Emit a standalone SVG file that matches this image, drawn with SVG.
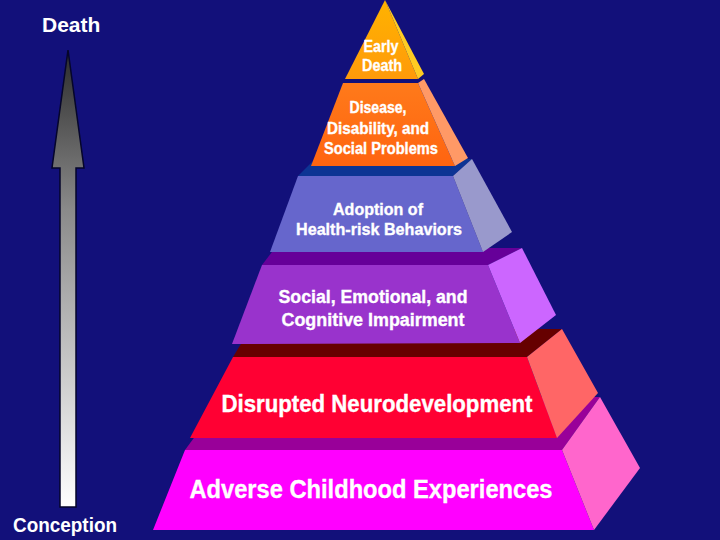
<svg xmlns="http://www.w3.org/2000/svg" width="720" height="540" viewBox="0 0 720 540">
  <defs>
    <linearGradient id="arrowGrad" x1="0" y1="0" x2="0" y2="1">
      <stop offset="0" stop-color="#2a2a2a"/>
      <stop offset="0.35" stop-color="#8a8a8a"/>
      <stop offset="1" stop-color="#ffffff"/>
    </linearGradient>
    <linearGradient id="topGrad" x1="0" y1="0" x2="0" y2="1">
      <stop offset="0" stop-color="#ffb300"/>
      <stop offset="1" stop-color="#ff9a0a"/>
    </linearGradient>
    <linearGradient id="dGrad" x1="0" y1="0" x2="0" y2="1">
      <stop offset="0" stop-color="#ff7a1a"/>
      <stop offset="1" stop-color="#ff6410"/>
    </linearGradient>
  </defs>
  <style>
    .lbl { font-family: "Liberation Sans", Arial, Helvetica, sans-serif; font-weight: bold; fill: #ffffff; stroke: #ffffff; stroke-width: 0.35; text-anchor: middle; }
    .axis { font-family: "Liberation Sans", Arial, Helvetica, sans-serif; font-weight: bold; fill: #ffffff; }
  </style>
  <rect width="720" height="540" fill="#12107a"/>

  <g id="connectors">
    <polygon points="68,50 84,168 76,168 76,507 60,507 60,168 52,168" fill="url(#arrowGrad)" stroke="#05052a" stroke-width="1.5" stroke-linejoin="miter"/>
  </g>

  <g id="label-death">
    <text class="axis" x="42" y="32" font-size="21">Death</text>
  </g>
  <g id="label-conception">
    <text class="axis" x="13" y="532" font-size="20" textLength="104" lengthAdjust="spacingAndGlyphs">Conception</text>
  </g>

  <g id="layer-adverse">
    <polygon points="185,450 562,450 600,397 224,397" fill="#990099"/>
    <polygon points="185,450 562,450 594,530 153,530" fill="#ff00ff"/>
    <polygon points="562,450 600,397 640,468 594,530" fill="#ff66cc"/>
    <text class="lbl" x="371" y="498" font-size="25" textLength="363" lengthAdjust="spacingAndGlyphs">Adverse Childhood Experiences</text>
  </g>

  <g id="layer-neuro">
    <polygon points="233,357 527,357 562,329 250,329" fill="#660000"/>
    <polygon points="233,357 527,357 557,438 190,438" fill="#ff0033"/>
    <polygon points="527,357 562,329 598,393 557,438" fill="#ff6666"/>
    <text class="lbl" x="377" y="412" font-size="23" textLength="311" lengthAdjust="spacingAndGlyphs">Disrupted Neurodevelopment</text>
  </g>

  <g id="layer-social">
    <polygon points="262,265 488,265 522,248 275,248" fill="#660099"/>
    <polygon points="262,265 488,265 520,343 232,344" fill="#9933cc"/>
    <polygon points="488,265 522,248 556,315 520,343" fill="#cc66ff"/>
    <text class="lbl" x="373" y="303" font-size="18" textLength="189" lengthAdjust="spacingAndGlyphs">Social, Emotional, and</text>
    <text class="lbl" x="373" y="326" font-size="18" textLength="183" lengthAdjust="spacingAndGlyphs">Cognitive Impairment</text>
  </g>

  <g id="layer-adoption">
    <polygon points="298,176 453,176 472,159 315,159" fill="#0d3494"/>
    <polygon points="298,176 453,176 483,252 270,252" fill="#6666cc"/>
    <polygon points="453,176 472,159 512,232 483,252" fill="#9999cc"/>
    <text class="lbl" x="378" y="215" font-size="17" textLength="90" lengthAdjust="spacingAndGlyphs">Adoption of</text>
    <text class="lbl" x="379" y="235" font-size="17" textLength="166" lengthAdjust="spacingAndGlyphs">Health-risk Behaviors</text>
  </g>

  <g id="layer-disease">
    <polygon points="343,83 418,83 455,166 311,166" fill="url(#dGrad)"/>
    <polygon points="418,83 424,79 468,158 455,166" fill="#ff9966"/>
    <text class="lbl" x="378" y="113" font-size="16" textLength="57" lengthAdjust="spacingAndGlyphs">Disease,</text>
    <text class="lbl" x="378" y="134" font-size="16" textLength="102" lengthAdjust="spacingAndGlyphs">Disability, and</text>
    <text class="lbl" x="381" y="154" font-size="16" textLength="114" lengthAdjust="spacingAndGlyphs">Social Problems</text>
  </g>

  <g id="layer-early-death">
    <polygon points="385,0 418,79 345,79" fill="url(#topGrad)"/>
    <polygon points="385,0 424,74 418,79" fill="#ffcc22"/>
    <text class="lbl" x="381" y="52" font-size="17" textLength="35" lengthAdjust="spacingAndGlyphs">Early</text>
    <text class="lbl" x="382" y="71" font-size="17" textLength="40" lengthAdjust="spacingAndGlyphs">Death</text>
  </g>
</svg>
